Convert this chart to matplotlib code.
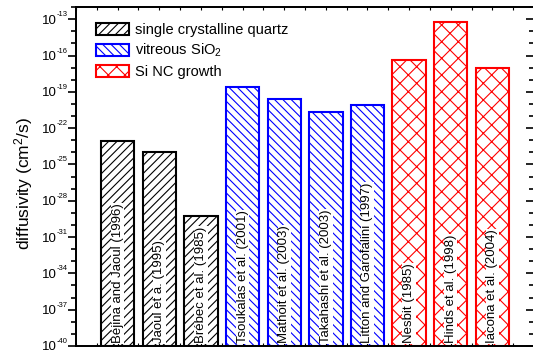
import numpy as np
import matplotlib.pyplot as plt
import matplotlib.transforms as mtransforms
from matplotlib.patches import Patch
from matplotlib.ticker import LogLocator, NullFormatter

plt.rcParams['font.family'] = ['Liberation Sans', 'DejaVu Sans']
plt.rcParams['mathtext.default'] = 'regular'
plt.rcParams['hatch.linewidth'] = 0.8

refs = ['Béjina and Jaoul (1996)', 'Jaoul et a. (1995)', 'Brébec et al. (1985)',
        'Tsoukalas et al. (2001)', 'Mathoit et al. (2003)', 'Takahashi et al. (2003)',
        'Litton and Garofalini (1997)', 'Nesbit (1985)', 'Hinds et al. (1998)',
        'Iacona et al. (2004)']
diffusivity = [9e-24, 1.1e-24, 6e-30, 2.3e-19, 2.5e-20, 2.1e-21, 7.5e-21,
               3.9e-17, 6e-14, 1.0e-17]
group = [0, 0, 0, 1, 1, 1, 1, 2, 2, 2]
group_names = ['single crystalline quartz', 'vitreous SiO$_2$', 'Si NC growth']
colors = ['black', 'blue', 'red']
hatches = ['////', '\\\\\\\\', 'xx']
exponents = [-40, -37, -34, -31, -28, -25, -22, -19, -16, -13]

fig = plt.figure(figsize=(5.33, 3.56), dpi=100)
ax = fig.add_axes([0.1426, 0.0281, 0.8594, 0.952])

x = np.arange(1, len(refs) + 1)
for xi, d, g in zip(x, diffusivity, group):
    ax.bar(xi, d, width=0.8, bottom=1e-40, facecolor='white',
           edgecolor=colors[g], hatch=hatches[g], linewidth=1.5)

trans = mtransforms.blended_transform_factory(ax.transData, ax.transAxes)
for xi, name in zip(x, refs):
    ax.text(xi, 0.008, name, rotation=90, ha='center', va='bottom',
            fontsize=9.5, transform=trans,
            bbox=dict(facecolor='white', edgecolor='none', pad=0.5))

major = [10.0 ** e for e in exponents]

ax.set_yscale('log')
ax.set_ylim(1e-40, 1e-12)
ax.set_xlim(0, 11)
ax.set_yticks(major)
ax.yaxis.set_minor_locator(LogLocator(base=10.0, subs=(1.0,), numticks=40))
ax.yaxis.set_major_formatter(NullFormatter())
ax.yaxis.set_minor_formatter(NullFormatter())
ax.set_xticks(np.arange(0, 11.01, 0.5))
ax.set_xticklabels([])
ax.tick_params(axis='y', which='major', direction='out', length=6, width=1.2)
ax.tick_params(axis='y', which='minor', direction='out', length=3.5, width=1.2)
ax.tick_params(axis='x', which='major', direction='in', length=2, width=0.8,
               top=True)
for s in ax.spines.values():
    s.set_linewidth(1.3)

# tick labels as "10" with a small raised exponent
ytrans = ax.get_yaxis_transform()
base_tr = mtransforms.offset_copy(ytrans, fig=fig, x=-19, y=-1.5, units='dots')
sup_tr = mtransforms.offset_copy(ytrans, fig=fig, x=-19, y=4.5, units='dots')
for e in exponents:
    ax.text(0, 10.0 ** e, '10', ha='right', va='center', fontsize=9.5,
            transform=base_tr)
    ax.text(0, 10.0 ** e, str(e), ha='left', va='center', fontsize=5.5,
            transform=sup_tr)

ax.set_ylabel('diffusivity (cm$^2$/s)', fontsize=12.5)
ax.yaxis.set_label_coords(-0.09, 0.478)

# mirrored ticks on the right side, pointing inward
axr = ax.twinx()
axr.set_yscale('log')
axr.set_ylim(ax.get_ylim())
axr.set_yticks(major)
axr.yaxis.set_minor_locator(LogLocator(base=10.0, subs=(1.0,), numticks=40))
axr.yaxis.set_major_formatter(NullFormatter())
axr.yaxis.set_minor_formatter(NullFormatter())
axr.tick_params(axis='y', which='major', direction='in', length=6, width=1.2)
axr.tick_params(axis='y', which='minor', direction='in', length=3.5, width=1.2)
for s in axr.spines.values():
    s.set_linewidth(1.3)

handles = [Patch(facecolor='white', edgecolor=c, hatch=h, linewidth=1.5)
           for c, h in zip(colors, hatches)]
ax.legend(handles, group_names, loc='upper left', bbox_to_anchor=(0.025, 0.98),
          frameon=False, fontsize=10.5, handlelength=2.25, handleheight=0.95,
          handletextpad=0.4, labelspacing=0.35, borderaxespad=0.2)

fig.savefig('out.png', dpi=100)
